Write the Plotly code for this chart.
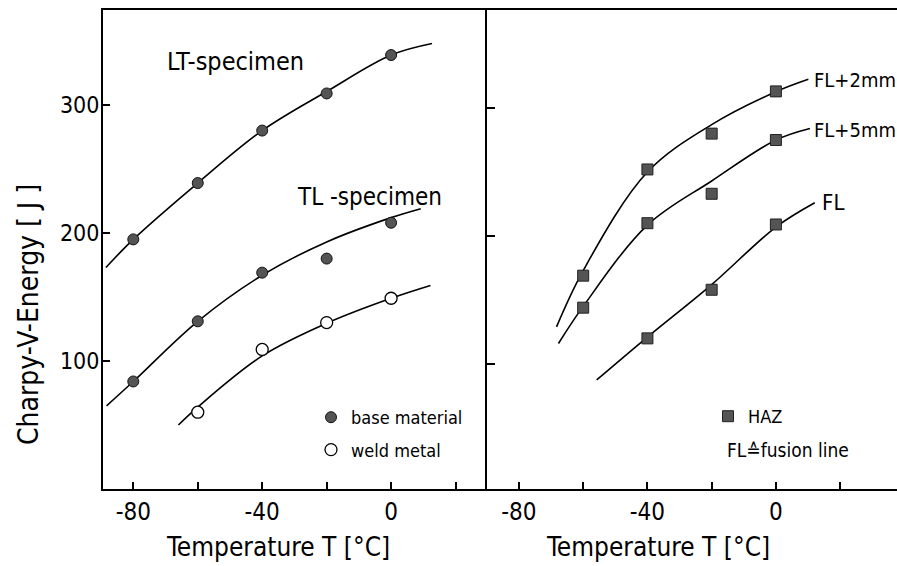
import plotly.graph_objects as go

# ---------------- data ----------------
temps = [-80, -60, -40, -20, 0]
lt_energy = [195, 239, 280, 309, 339]          # LT-specimen, base material
tl_energy = [84, 131, 169, 180, 208]           # TL-specimen, base material
weld_temps = [-60, -40, -20, 0]
weld_energy = [60, 109, 130, 149]              # weld metal

haz_temps = [-60, -40, -20, 0]
fl2_energy = [169, 252, 280, 313]              # FL+2mm
fl5_energy = [144, 210, 233, 275]              # FL+5mm
fl_temps = [-40, -20, 0]
fl_energy = [120, 158, 209]                    # FL

# fitted curves (knots)
lt_curve_t = [-88.5, -80, -60, -40, -20, 0, 12.7]
lt_curve_e = [173, 195, 239, 280, 310.5, 339, 348]
tl_curve_t = [-88.3, -80, -60, -40, -20, 0, 9.2]
tl_curve_e = [65, 84, 131, 167, 193, 212, 219]
weld_curve_t = [-66, -60, -40, -20, 0, 12.2]
weld_curve_e = [50, 64, 104, 129.5, 149, 159]
fl2_curve_t = [-68.3, -60, -40, -20, 0, 10.1]
fl2_curve_e = [129, 173, 250, 287, 312.7, 322.4]
fl5_curve_t = [-67.7, -60, -40, -20, 0, 10.6]
fl5_curve_e = [116, 145, 208.5, 243, 275, 284]
fl_curve_t = [-55.8, -40, -20, 0, 12.1]
fl_curve_e = [87.5, 121, 162, 207, 226]

x_tickvals = [-80, -60, -40, -20, 0, 20]
x_ticktext = ["-80", "", "-40", "", "0", ""]
y_tickvals = [100, 200, 300]
y_ticktext = ["100", "200", "300"]

FONT = "DejaVu Sans Condensed, Liberation Sans Narrow, DejaVu Sans, sans-serif"
FILL = "#545454"

# plot area in the reference: x 103..897, y 10..489
PX0, PY0, PW, PH = 103, 489, 794, 479


def px(x):
    return (x - PX0) / PW


def py(y):
    return (PY0 - y) / PH


fig = go.Figure()


def curve(t, e, xa="x", ya="y"):
    fig.add_trace(go.Scatter(x=t, y=e, mode="lines", xaxis=xa, yaxis=ya,
                             line=dict(color="black", width=1.6, shape="spline", smoothing=1.0),
                             showlegend=False, hoverinfo="skip"))


curve(lt_curve_t, lt_curve_e)
curve(tl_curve_t, tl_curve_e)
curve(weld_curve_t, weld_curve_e)
curve(fl2_curve_t, fl2_curve_e, "x2", "y2")
curve(fl5_curve_t, fl5_curve_e, "x2", "y2")
curve(fl_curve_t, fl_curve_e, "x2", "y2")

base_marker = dict(symbol="circle", size=11, color=FILL, line=dict(color="#111", width=1))
fig.add_trace(go.Scatter(x=temps, y=lt_energy, mode="markers", marker=base_marker,
                         name="base material", legendgroup="a", legend="legend"))
fig.add_trace(go.Scatter(x=temps, y=tl_energy, mode="markers", marker=base_marker,
                         name="base material", legendgroup="a", showlegend=False))
fig.add_trace(go.Scatter(x=weld_temps, y=weld_energy, mode="markers",
                         marker=dict(symbol="circle", size=12, color="white",
                                     line=dict(color="black", width=1.3)),
                         name="weld metal", legendgroup="b", legend="legend"))

sq_marker = dict(symbol="square", size=11, color=FILL, line=dict(color="#222", width=1))
fig.add_trace(go.Scatter(x=haz_temps, y=fl2_energy, mode="markers", marker=sq_marker,
                         xaxis="x2", yaxis="y2", name="HAZ", legend="legend2"))
fig.add_trace(go.Scatter(x=haz_temps, y=fl5_energy, mode="markers", marker=sq_marker,
                         xaxis="x2", yaxis="y2", showlegend=False))
fig.add_trace(go.Scatter(x=fl_temps, y=fl_energy, mode="markers", marker=sq_marker,
                         xaxis="x2", yaxis="y2", showlegend=False))

axis_common = dict(showline=True, linecolor="black", linewidth=2, showgrid=False,
                   zeroline=False, ticks="inside", tickcolor="black", tickwidth=1.5)

fig.update_layout(
    width=897, height=566,
    margin=dict(l=103, r=0, t=10, b=77),
    paper_bgcolor="white", plot_bgcolor="white",
    font=dict(family=FONT, color="black"),
    xaxis=dict(domain=[0, 0.483], range=[-89.4, 29.6], tickvals=x_tickvals,
               ticktext=x_ticktext, ticklen=7, mirror=True, anchor="y",
               tickfont=dict(family=FONT, size=24, color="black"), **axis_common),
    yaxis=dict(range=[0, 374.2], tickvals=y_tickvals, ticktext=y_ticktext, ticklen=7,
               anchor="x", ticklabelstandoff=-3,
               tickfont=dict(family=FONT, size=23, color="black"), **axis_common),
    xaxis2=dict(domain=[0.483, 1], range=[-90.1, 37.7], tickvals=x_tickvals,
                ticktext=x_ticktext, ticklen=7, mirror=True, anchor="y2",
                tickfont=dict(family=FONT, size=24, color="black"), **axis_common),
    yaxis2=dict(range=[2.3, 376.6], tickvals=y_tickvals, showticklabels=False, ticklen=8,
                anchor="x2", **axis_common),
    legend=dict(x=px(311), y=py(399), xanchor="left", yanchor="top",
                bgcolor="rgba(0,0,0,0)", font=dict(family=FONT, size=18, color="black"),
                tracegroupgap=6, traceorder="grouped"),
    legend2=dict(x=px(708), y=py(398), xanchor="left", yanchor="top",
                 bgcolor="rgba(0,0,0,0)", font=dict(family=FONT, size=18, color="black")),
)

annotations = [
    dict(text="Charpy-V-Energy [ J ]", xref="paper", yref="paper",
         x=px(28), y=py(315), textangle=-90, showarrow=False,
         xanchor="center", yanchor="middle", font=dict(family=FONT, size=28)),
    dict(text="Temperature T [°C]", xref="paper", yref="paper",
         x=px(278), y=py(547), showarrow=False,
         xanchor="center", yanchor="middle", font=dict(family=FONT, size=26)),
    dict(text="Temperature T [°C]", xref="paper", yref="paper",
         x=px(657.5), y=py(547), showarrow=False,
         xanchor="center", yanchor="middle", font=dict(family=FONT, size=26)),
    dict(text="LT-specimen", xref="x", yref="y", x=-48.4, y=333.6, showarrow=False,
         xanchor="center", yanchor="middle", font=dict(family=FONT, size=25)),
    dict(text="TL -specimen", xref="x", yref="y", x=-6.7, y=228, showarrow=False,
         xanchor="center", yanchor="middle", font=dict(family=FONT, size=24)),
    dict(text="FL+2mm", xref="x2", yref="y2", x=11.2, y=321.9, showarrow=False,
         xanchor="left", yanchor="middle", font=dict(family=FONT, size=20)),
    dict(text="FL+5mm", xref="x2", yref="y2", x=11.2, y=282.8, showarrow=False,
         xanchor="left", yanchor="middle", font=dict(family=FONT, size=20)),
    dict(text="FL", xref="x2", yref="y2", x=13.7, y=225.8, showarrow=False,
         xanchor="left", yanchor="middle", font=dict(family=FONT, size=22)),
    dict(text="FL≙fusion line", xref="x2", yref="y2", x=-15.9, y=32.8, showarrow=False,
         xanchor="left", yanchor="middle", font=dict(family=FONT, size=19)),
]
fig.update_layout(annotations=annotations)

fig.write_html("out.html",
               config={"displayModeBar": False},
               post_script="document.body.style.margin='0';"
                           "document.body.style.overflow='hidden';")
